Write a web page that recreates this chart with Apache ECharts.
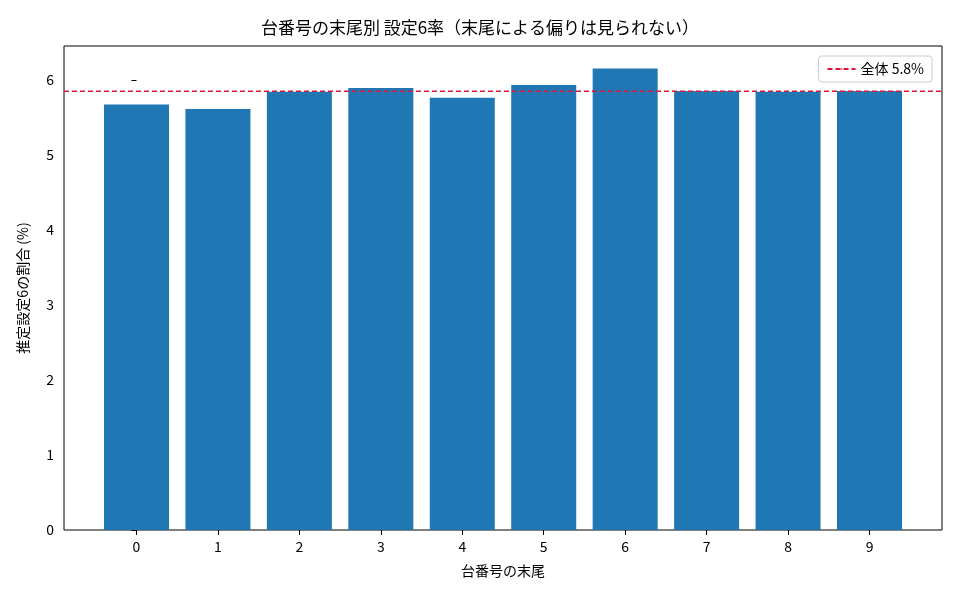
<!DOCTYPE html>
<html><head><meta charset="utf-8">
<script src="https://cdn.jsdelivr.net/npm/echarts@6/dist/echarts.min.js"></script>
<style>body{margin:0}#c{width:960px;height:600px}</style></head>
<body><div id="c"></div>
<script>
const categories = [0,1,2,3,4,5,6,7,8,9];
const rates = [5.67,5.61,5.84,5.89,5.76,5.93,6.15,5.85,5.84,5.85];
const overall = 5.847;
const yTicks = [0,1,2,3,4,5,6];
const F = '"Noto Sans CJK JP", sans-serif';
const chart = echarts.init(document.getElementById('c'));
chart.setOption({
  animation:false,
  title:{text:'台番号の末尾別 設定6率（末尾による偏りは見られない）',left:'center',top:14,textStyle:{fontFamily:F,fontSize:17,fontWeight:'normal',color:'#000'}},
  grid:{left:64,right:18,top:46,bottom:70,show:true,borderColor:'#000',borderWidth:1},
  legend:{right:28,top:56,data:['全体 5.8%'],itemWidth:28,itemHeight:2,borderColor:'#ccc',borderWidth:1,borderRadius:3,padding:[6,8],textStyle:{fontFamily:F,fontSize:14,color:'#000'}},
  xAxis:{type:'value',min:-0.89,max:9.89,name:'台番号の末尾',nameLocation:'middle',nameGap:34,nameTextStyle:{fontFamily:F,fontSize:14,color:'#000'},
    splitLine:{show:false},axisLine:{show:false},
    axisTick:{show:true,customValues:categories,length:5,lineStyle:{color:'#000'}},
    axisLabel:{customValues:categories,fontFamily:F,fontSize:14,color:'#000',margin:10}},
  yAxis:{type:'value',min:0,max:6.45,name:'推定設定6の割合 (%)',nameLocation:'middle',nameGap:34,nameTextStyle:{fontFamily:F,fontSize:14,color:'#000'},
    splitLine:{show:false},axisLine:{show:false},
    axisTick:{show:true,customValues:yTicks,length:5,lineStyle:{color:'#000'}},
    axisLabel:{customValues:yTicks,fontFamily:F,fontSize:14,color:'#000',margin:10}},
  series:[
    {type:'bar',data:categories.map((c,i)=>[c,rates[i]]),barWidth:65,itemStyle:{color:'#1f77b4'}},
    {name:'全体 5.8%',type:'line',data:[[-0.89,overall],[9.89,overall]],symbol:'none',lineStyle:{color:'#dc143c',type:[5,3],width:1.3},itemStyle:{color:'#dc143c'},z:5}
  ]
});
</script></body></html>
